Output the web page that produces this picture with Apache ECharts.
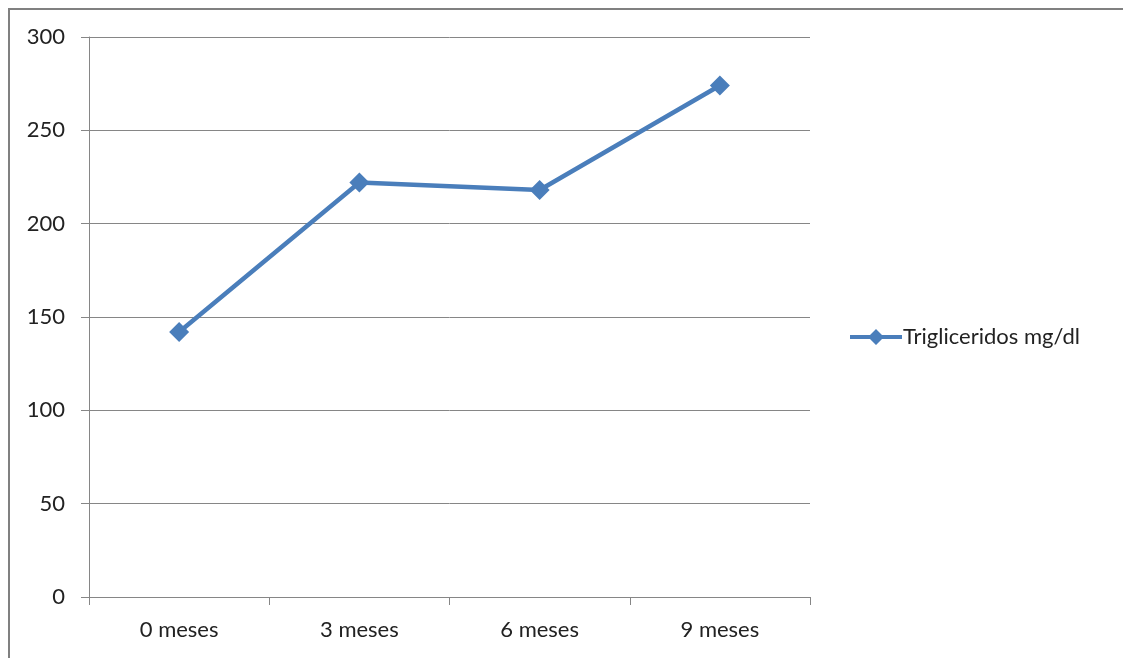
<!DOCTYPE html>
<html>
<head>
<meta charset="utf-8">
<script src="https://cdn.jsdelivr.net/npm/echarts@6/dist/echarts.min.js"></script>
<style>
  html, body { margin: 0; padding: 0; background: #fff; }
  #chart { width: 1123px; height: 658px; }
</style>
</head>
<body>
<div id="chart"></div>
<script>
// Triglyceride levels measured every three months
const categories = ['0 meses', '3 meses', '6 meses', '9 meses'];
const trigliceridos = [142, 222, 218, 274];
const seriesName = 'Trigliceridos mg/dl';

const FONT = 'Lato, "Open Sans", sans-serif';
const BLUE = '#4a7ebb';
// Legend key: a thick line segment with a diamond in its middle
const LEGEND_ICON = 'path://M0,6 L20,6 L26,0 L32,6 L52,6 L52,10 L32,10 L26,16 L20,10 L0,10 Z';

const chart = echarts.init(document.getElementById('chart'));

chart.setOption({
  animation: false,
  backgroundColor: '#fff',
  graphic: [{
    type: 'rect',
    shape: { x: 9, y: 9, width: 1130, height: 670 },
    style: { fill: 'none', stroke: '#808080', lineWidth: 2 },
    silent: true
  }],
  grid: { left: 89, top: 37, width: 721, height: 560, containLabel: false },
  legend: {
    left: 845, top: 321,
    itemWidth: 52, itemHeight: 16,
    itemGap: 4,
    textStyle: { fontFamily: FONT, fontSize: 22, color: '#222', padding: [0, 0, 0, -4] },
    data: [{ name: seriesName, icon: LEGEND_ICON, itemStyle: { color: BLUE } }]
  },
  xAxis: {
    type: 'category',
    data: categories,
    boundaryGap: true,
    axisLine: { lineStyle: { color: '#868686', width: 1 } },
    axisTick: { show: true, length: 8, lineStyle: { color: '#868686' } },
    axisLabel: { fontFamily: FONT, fontSize: 22, color: '#222', margin: 22 }
  },
  yAxis: {
    type: 'value',
    min: 0, max: 300, interval: 50,
    axisLine: { show: true, lineStyle: { color: '#868686', width: 1 } },
    axisTick: { show: true, length: 8, lineStyle: { color: '#868686' } },
    axisLabel: { fontFamily: FONT, fontSize: 22, color: '#222', margin: 24 },
    splitLine: { lineStyle: { color: '#868686', width: 1 } }
  },
  series: [{
    name: seriesName,
    type: 'line',
    data: trigliceridos,
    symbol: 'diamond',
    symbolSize: 20,
    lineStyle: { color: BLUE, width: 4.5 },
    itemStyle: { color: BLUE }
  }]
});
</script>
</body>
</html>
